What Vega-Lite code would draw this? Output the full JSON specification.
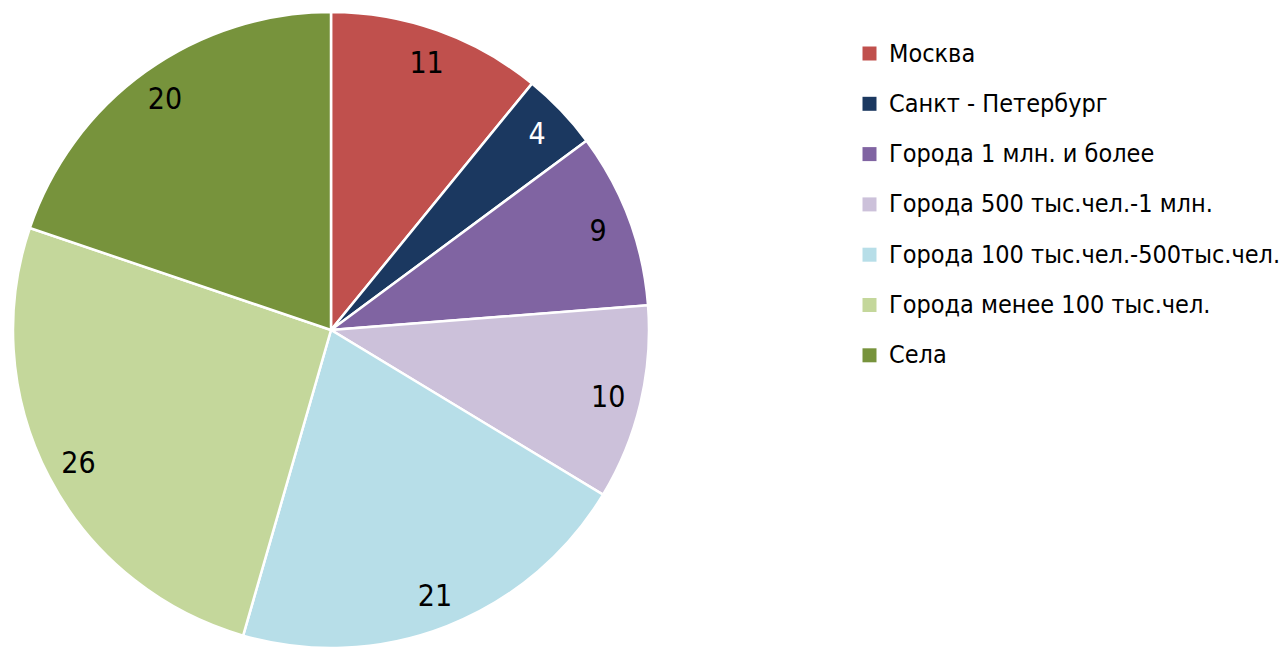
{
  "$schema": "https://vega.github.io/schema/vega-lite/v6.json",
  "width": 662,
  "height": 660,
  "padding": {"left": 0, "top": 0, "right": 619, "bottom": 0},
  "autosize": {"type": "none"},
  "background": "white",
  "config": {"view": {"stroke": null}, "font": "DejaVu Sans Condensed, Liberation Sans, sans-serif"},
  "data": {
    "values": [
      {"cat": "Москва", "value": 11, "ord": 1},
      {"cat": "Санкт - Петербург", "value": 4, "ord": 2},
      {"cat": "Города 1 млн. и более", "value": 9, "ord": 3},
      {"cat": "Города 500 тыс.чел.-1 млн.", "value": 10, "ord": 4},
      {"cat": "Города 100 тыс.чел.-500тыс.чел.", "value": 21, "ord": 5},
      {"cat": "Города менее 100 тыс.чел.", "value": 26, "ord": 6},
      {"cat": "Села", "value": 20, "ord": 7}
    ]
  },
  "encoding": {
    "theta": {"field": "value", "type": "quantitative", "stack": true},
    "order": {"field": "ord", "type": "quantitative"}
  },
  "layer": [
    {
      "mark": {"type": "arc", "outerRadius": 318, "stroke": "white", "strokeWidth": 2.5},
      "encoding": {
        "color": {
          "field": "cat",
          "type": "nominal",
          "scale": {
            "domain": ["Москва", "Санкт - Петербург", "Города 1 млн. и более", "Города 500 тыс.чел.-1 млн.", "Города 100 тыс.чел.-500тыс.чел.", "Города менее 100 тыс.чел.", "Села"],
            "range": ["#C0504D", "#1B3860", "#8064A2", "#CCC1DA", "#B7DEE8", "#C4D79B", "#77933C"]
          },
          "legend": {
            "title": null,
            "orient": "none",
            "legendX": 857,
            "legendY": 41,
            "symbolType": "square",
            "symbolSize": 196,
            "symbolStrokeWidth": 0,
            "labelFont": "DejaVu Sans Condensed, Liberation Sans, sans-serif",
            "labelFontSize": 25,
            "labelColor": "black",
            "labelOffset": 7,
            "rowPadding": 24.3,
            "labelLimit": 500
          }
        }
      }
    },
    {
      "mark": {"type": "text", "radius": 285, "fontSize": 30, "dy": 2, "font": "DejaVu Sans Condensed, Liberation Sans, sans-serif"},
      "encoding": {
        "text": {"field": "value", "type": "quantitative"},
        "color": {
          "condition": {"test": "datum.value == 4", "value": "white"},
          "value": "black"
        }
      }
    }
  ]
}
